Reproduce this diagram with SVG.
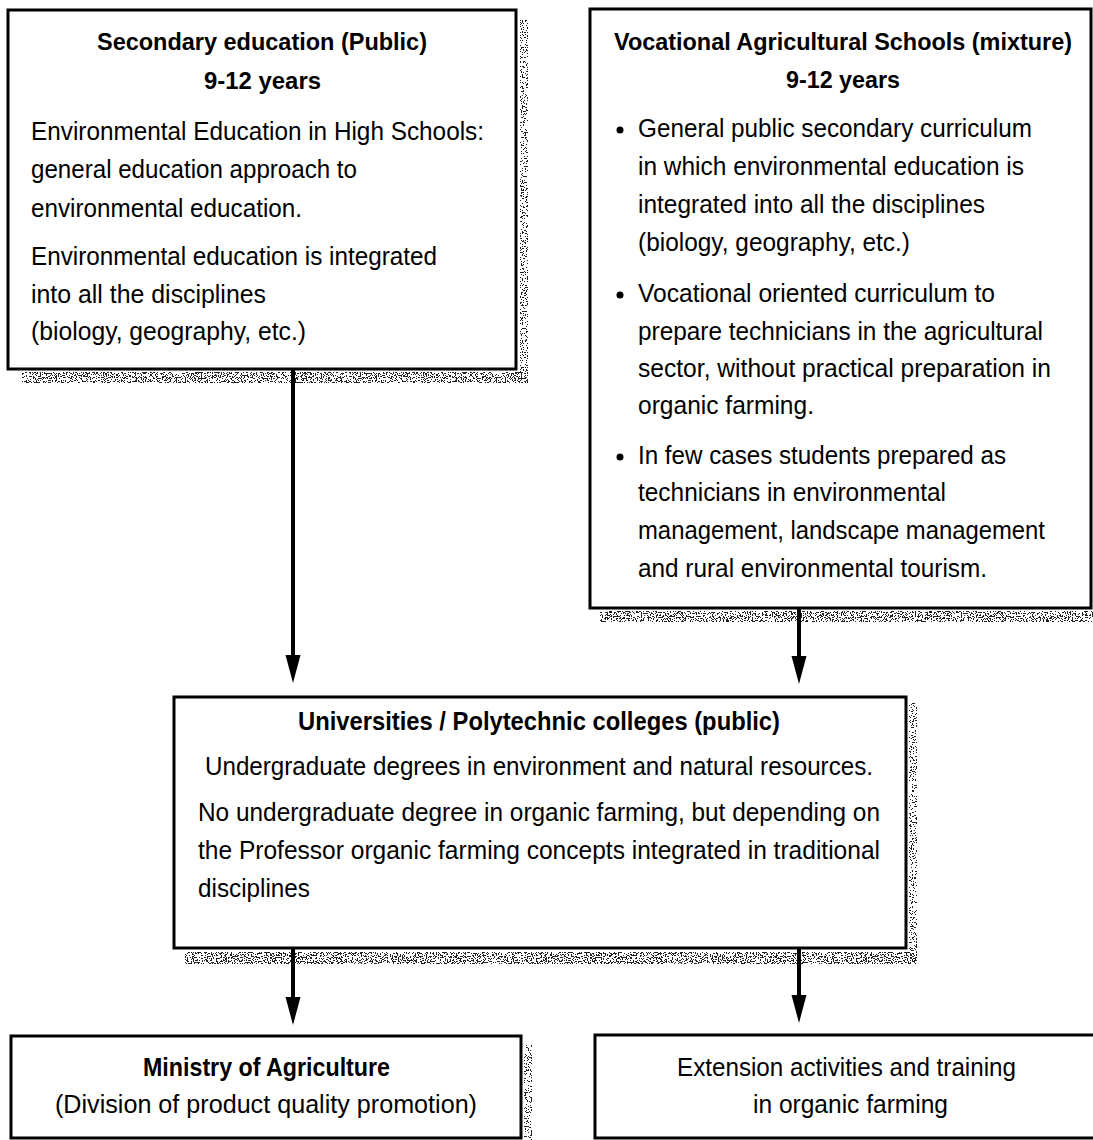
<svg xmlns="http://www.w3.org/2000/svg" width="1093" height="1140" viewBox="0 0 1093 1140">
  <style>
    .box { fill: #fff; stroke: #000; stroke-width: 3; }
    .shade { fill: #222; filter: url(#grain); }
    .shade-v { fill: #222; filter: url(#grain-sparse); }
    .t { font-family: "Liberation Sans", Arial, Helvetica, sans-serif; fill: #000; font-size: 25px; }
    .n { font-size: 25px; }
    .b { font-weight: bold; }
    .h { font-size: 23px; }
    .link { stroke: #000; stroke-width: 4; fill: none; marker-end: url(#head); }
  </style>
  <defs>
    <!-- speckled print-shadow texture for the box edges -->
    <filter id="grain" x="0" y="0" width="1" height="1" color-interpolation-filters="sRGB">
      <feTurbulence type="fractalNoise" baseFrequency="0.8" numOctaves="2" seed="11" result="noise"/>
      <feColorMatrix in="noise" type="matrix" values="0 0 0 0 0  0 0 0 0 0  0 0 0 0 0  1 0 0 0 0" result="mask"/>
      <feComponentTransfer in="mask" result="dots">
        <feFuncA type="discrete" tableValues="0 0 0 0 0 0 0 0 0 0 0 1 1 1 1 1 1 1 1 1"/>
      </feComponentTransfer>
      <feComposite in="SourceGraphic" in2="dots" operator="in"/>
    </filter>
    <filter id="grain-sparse" x="0" y="0" width="1" height="1" color-interpolation-filters="sRGB">
      <feTurbulence type="fractalNoise" baseFrequency="0.8" numOctaves="2" seed="5" result="noise"/>
      <feColorMatrix in="noise" type="matrix" values="0 0 0 0 0  0 0 0 0 0  0 0 0 0 0  1 0 0 0 0" result="mask"/>
      <feComponentTransfer in="mask" result="dots">
        <feFuncA type="discrete" tableValues="0 0 0 0 0 0 0 0 0 0 0 0 1 1 1 1 1 1 1 1"/>
      </feComponentTransfer>
      <feComposite in="SourceGraphic" in2="dots" operator="in"/>
    </filter>
    <marker id="head" markerUnits="userSpaceOnUse" markerWidth="28" markerHeight="16" refX="0" refY="8" orient="auto" viewBox="0 0 28 16">
      <path d="M0,0.5 L28,8 L0,15.5 Z" fill="#000"/>
    </marker>
  </defs>

  <rect width="1093" height="1140" fill="#fff"/>

  <!-- shadows behind the boxes -->
  <g id="shadows">
    <rect class="shade-v" x="520" y="20" width="8" height="352"/>
    <rect class="shade" x="22" y="372" width="506" height="11"/>
    <rect class="shade" x="600" y="611" width="493" height="11"/>
    <rect class="shade-v" x="909" y="703" width="8" height="249"/>
    <rect class="shade" x="185" y="952" width="732" height="12"/>
    <rect class="shade-v" x="524" y="1045" width="8" height="95"/>
  </g>

  <g id="secondary">
    <rect class="box" x="8" y="10" width="508" height="359"/>
    <text class="t b h" x="97" y="50" textLength="330" lengthAdjust="spacingAndGlyphs">Secondary education (Public)</text>
    <text class="t b h" x="204" y="89" textLength="117" lengthAdjust="spacingAndGlyphs">9-12 years</text>
    <text class="t" x="31" y="140" textLength="453" lengthAdjust="spacingAndGlyphs">Environmental Education in High Schools:</text>
    <text class="t" x="31" y="178" textLength="326" lengthAdjust="spacingAndGlyphs">general education approach to</text>
    <text class="t" x="31" y="217" textLength="271" lengthAdjust="spacingAndGlyphs">environmental education.</text>
    <text class="t" x="31" y="265" textLength="406" lengthAdjust="spacingAndGlyphs">Environmental education is integrated</text>
    <text class="t" x="31" y="303" textLength="235" lengthAdjust="spacingAndGlyphs">into all the disciplines</text>
    <text class="t" x="31" y="340" textLength="275" lengthAdjust="spacingAndGlyphs">(biology, geography, etc.)</text>
  </g>

  <g id="vocational">
    <rect class="box" x="590" y="9" width="501" height="599"/>
    <text class="t b h" x="614" y="50" textLength="458" lengthAdjust="spacingAndGlyphs">Vocational Agricultural Schools (mixture)</text>
    <text class="t b h" x="786" y="88" textLength="114" lengthAdjust="spacingAndGlyphs">9-12 years</text>
    <circle cx="620" cy="130" r="3.5"/>
    <text class="t" x="638" y="137" textLength="394" lengthAdjust="spacingAndGlyphs">General public secondary curriculum</text>
    <text class="t" x="638" y="175" textLength="386" lengthAdjust="spacingAndGlyphs">in which environmental education is</text>
    <text class="t" x="638" y="213" textLength="347" lengthAdjust="spacingAndGlyphs">integrated into all the disciplines</text>
    <text class="t" x="638" y="251" textLength="272" lengthAdjust="spacingAndGlyphs">(biology, geography, etc.)</text>
    <circle cx="620" cy="295" r="3.5"/>
    <text class="t" x="638" y="302" textLength="357" lengthAdjust="spacingAndGlyphs">Vocational oriented curriculum to</text>
    <text class="t" x="638" y="340" textLength="405" lengthAdjust="spacingAndGlyphs">prepare technicians in the agricultural</text>
    <text class="t" x="638" y="377" textLength="413" lengthAdjust="spacingAndGlyphs">sector, without practical preparation in</text>
    <text class="t" x="638" y="414" textLength="176" lengthAdjust="spacingAndGlyphs">organic farming.</text>
    <circle cx="620" cy="457" r="3.5"/>
    <text class="t" x="638" y="464" textLength="368" lengthAdjust="spacingAndGlyphs">In few cases students prepared as</text>
    <text class="t" x="638" y="501" textLength="308" lengthAdjust="spacingAndGlyphs">technicians in environmental</text>
    <text class="t" x="638" y="539" textLength="407" lengthAdjust="spacingAndGlyphs">management, landscape management</text>
    <text class="t" x="638" y="577" textLength="349" lengthAdjust="spacingAndGlyphs">and rural environmental tourism.</text>
  </g>

  <g id="universities">
    <rect class="box" x="174" y="697" width="732" height="251"/>
    <text class="t n b" x="298" y="730" textLength="482" lengthAdjust="spacingAndGlyphs">Universities / Polytechnic colleges (public)</text>
    <text class="t n" x="205" y="775" textLength="668" lengthAdjust="spacingAndGlyphs">Undergraduate degrees in environment and natural resources.</text>
    <text class="t n" x="198" y="821" textLength="682" lengthAdjust="spacingAndGlyphs">No undergraduate degree in organic farming, but depending on</text>
    <text class="t n" x="198" y="859" textLength="682" lengthAdjust="spacingAndGlyphs">the Professor organic farming concepts integrated in traditional</text>
    <text class="t n" x="198" y="897" textLength="112" lengthAdjust="spacingAndGlyphs">disciplines</text>
  </g>

  <g id="ministry">
    <rect class="box" x="11" y="1036" width="510" height="102"/>
    <text class="t n b" x="143" y="1076" textLength="247" lengthAdjust="spacingAndGlyphs">Ministry of Agriculture</text>
    <text class="t n" x="55" y="1113" textLength="422" lengthAdjust="spacingAndGlyphs">(Division of product quality promotion)</text>
  </g>

  <g id="extension">
    <rect class="box" x="595" y="1035" width="502" height="103"/>
    <text class="t n" x="677" y="1076" textLength="339" lengthAdjust="spacingAndGlyphs">Extension activities and training</text>
    <text class="t n" x="753" y="1113" textLength="195" lengthAdjust="spacingAndGlyphs">in organic farming</text>
  </g>

  <g id="connectors">
    <line class="link" x1="293" y1="369" x2="293" y2="655"/>
    <line class="link" x1="799" y1="608" x2="799" y2="656"/>
    <line class="link" x1="293" y1="948" x2="293" y2="997"/>
    <line class="link" x1="799" y1="948" x2="799" y2="995"/>
  </g>
</svg>
